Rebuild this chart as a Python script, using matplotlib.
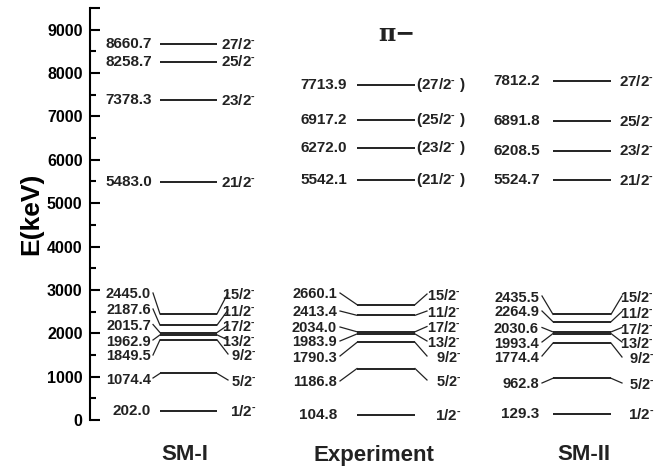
import matplotlib
matplotlib.use("Agg")
import matplotlib.pyplot as plt

plt.rcParams['font.family'] = 'Liberation Sans'
plt.rcParams['font.weight'] = 'bold'
plt.rcParams['mathtext.fontset'] = 'custom'
plt.rcParams['mathtext.rm'] = 'Liberation Sans:bold'
plt.rcParams['mathtext.bf'] = 'Liberation Sans:bold'
plt.rcParams['mathtext.it'] = 'Liberation Sans:bold'

# level energies (keV) and spins, lowest first
spins = ['1/2', '5/2', '9/2', '13/2', '17/2', '11/2', '15/2',
         '21/2', '23/2', '25/2', '27/2']
sm1_energy = [202.0, 1074.4, 1849.5, 1962.9, 2015.7, 2187.6, 2445.0,
              5483.0, 7378.3, 8258.7, 8660.7]
exp_energy = [104.8, 1186.8, 1790.3, 1983.9, 2034.0, 2413.4, 2660.1,
              5542.1, 6272.0, 6917.2, 7713.9]
sm2_energy = [129.3, 962.8, 1774.4, 1993.4, 2030.6, 2264.9, 2435.5,
              5524.7, 6208.5, 6891.8, 7812.2]
exp_tentative = [False] * 7 + [True] * 4
columns = ['SM-I', 'Experiment', 'SM-II']

# label rows (pixel rows) for the crowded low-lying levels, index 1..6
sm1_lab_e = [378, 355, 340, 324.5, 309, 293]
sm1_lab_s = [380, 354, 340, 325, 310, 293]
exp_lab_e = [381, 356, 341, 327, 311, 293]
exp_lab_s = [380, 356, 341, 326.5, 311, 294]
sm2_lab_e = [383, 356, 342, 327.5, 311, 296]
sm2_lab_s = [383, 357, 342, 327.5, 311.5, 296]

W, H = 655, 468
Y0, YTOP = 420, 8   # pixel rows of 0 keV and top of the axis
EMAX = 9500


def px2e(y):
    return (Y0 - y) / (Y0 - YTOP) * EMAX


fig = plt.figure(figsize=(W / 100, H / 100), dpi=100)
ax = fig.add_axes([89.5 / W, (H - Y0) / H, (W - 89.5) / W, (Y0 - YTOP) / H])
ax.set_xlim(89.5, W)
ax.set_ylim(0, EMAX)

for s in ['top', 'right', 'bottom']:
    ax.spines[s].set_visible(False)
ax.spines['left'].set_linewidth(1.5)
ax.set_xticks([])
ticks = list(range(0, 10000, 1000)) + [9500]
ax.set_yticks(ticks)
ax.set_yticklabels([str(t) if t <= 9000 else '' for t in ticks], fontsize=11.5,
                   fontweight='bold')
ax.set_yticks(range(500, 9500, 1000), minor=True)
ax.tick_params(axis='y', which='major', direction='in', length=7, width=1.5, pad=5)
ax.tick_params(axis='y', which='minor', direction='in', length=4, width=1.5)
ax.set_ylabel('E(keV)', fontsize=19, fontweight='bold', labelpad=3)

# x0, x1 of level line, energy text right edge (crowded / upper),
# connector gaps, spin text right edge, label centre for column title
geom = {
    'SM-I': dict(x0=160, x1=217, er=151, er_top=152, ec=153, sc=228, sr=256, cx=185),
    'Experiment': dict(x0=357, x1=415, er=337, er_top=347, ec=340, sc=427, sr=461, cx=374),
    'SM-II': dict(x0=553, x1=611, er=539, er_top=540, ec=542, sc=622, sr=654, cx=584),
}
data = {
    'SM-I': (sm1_energy, sm1_lab_e, sm1_lab_s),
    'Experiment': (exp_energy, exp_lab_e, exp_lab_s),
    'SM-II': (sm2_energy, sm2_lab_e, sm2_lab_s),
}

fs = 11
fs_low = 10.5
for name in columns:
    g = geom[name]
    energies, lab_e, lab_s = data[name]
    for i, (e, sp) in enumerate(zip(energies, spins)):
        ax.plot([g['x0'], g['x1']], [e, e], color='#222222', lw=1.4,
                solid_capstyle='butt')
        spin_txt = sp + r'$^{\text{-}}$'
        if name == 'Experiment' and exp_tentative[i]:
            spin_txt = '(' + spin_txt + ' )'
        if 1 <= i <= 6:
            ye = px2e(lab_e[i - 1])
            ys = px2e(lab_s[i - 1])
            ax.plot([g['ec'], g['x0']], [ye, e], color='#222222', lw=0.9)
            ax.plot([g['x1'], g['sc']], [e, ys], color='#222222', lw=0.9)
            ax.text(g['er'], ye, '%.1f' % e, ha='right', va='center_baseline',
                    fontsize=fs_low, fontweight='bold', color='#222222')
            ax.text(g['sr'], ys, spin_txt, ha='right', va='center_baseline',
                    fontsize=fs_low, fontweight='bold', color='#222222')
        else:
            er = g['er'] if i == 0 else g['er_top']
            sr = g['sr'] + (4 if name == 'Experiment' and i > 6 else 0)
            ax.text(er, e, '%.1f' % e, ha='right', va='center',
                    fontsize=fs, fontweight='bold', color='#222222')
            ax.text(sr, e, spin_txt, ha='right', va='center',
                    fontsize=fs, fontweight='bold', color='#222222')
    fig.text(g['cx'] / W, 1 - 455 / H, name, ha='center', va='center',
             fontsize=16, fontweight='bold', color='#222222')

fig.text(397 / W, 1 - 34 / H, 'π−', ha='center', va='center',
         fontsize=17, family='DejaVu Serif', color='#222222')

fig.savefig('out.png', dpi=100)
